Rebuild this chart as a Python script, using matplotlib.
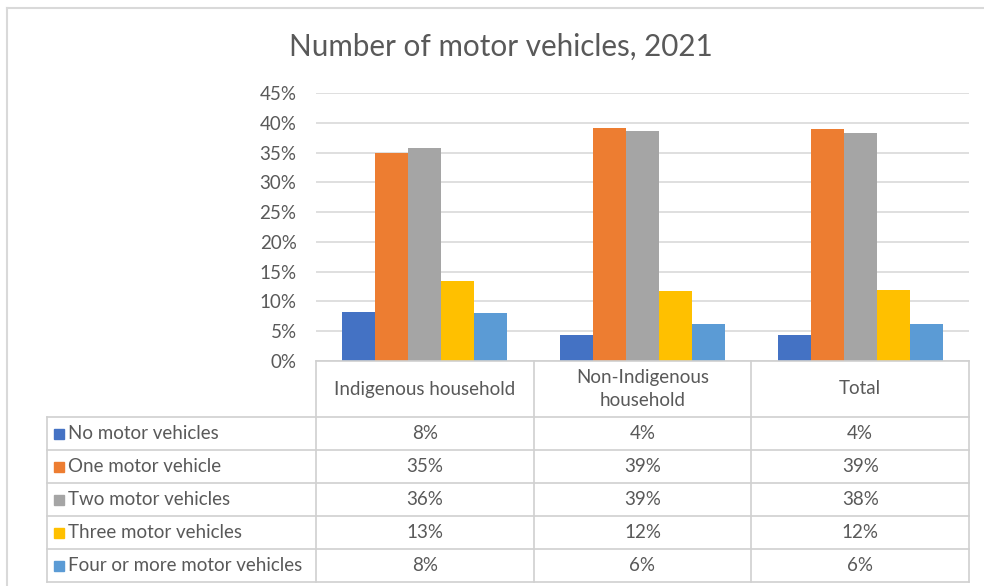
import matplotlib
matplotlib.use("Agg")
import matplotlib.pyplot as plt
from matplotlib.lines import Line2D
import numpy as np

plt.rcParams['font.family'] = ['Lato', 'DejaVu Sans']

# ---- data ----
categories = ["Indigenous household", "Non-Indigenous\nhousehold", "Total"]
series_names = ["No motor vehicles", "One motor vehicle", "Two motor vehicles",
                "Three motor vehicles", "Four or more motor vehicles"]
no_vehicles = [0.083, 0.043, 0.044]
one_vehicle = [0.349, 0.392, 0.389]
two_vehicles = [0.358, 0.386, 0.383]
three_vehicles = [0.134, 0.118, 0.120]
four_plus = [0.080, 0.062, 0.062]
series_values = [no_vehicles, one_vehicle, two_vehicles, three_vehicles, four_plus]
series_colors = ["#4472C4", "#ED7D31", "#A5A5A5", "#FFC000", "#5B9BD5"]
y_ticks = [0, 0.05, 0.10, 0.15, 0.20, 0.25, 0.30, 0.35, 0.40, 0.45]
title = "Number of motor vehicles, 2021"

TEXT = "#595959"
GRID = "#d9d9d9"
LINE = "#d0d0d0"
FS = 13.5

W, H = 984, 586
fig = plt.figure(figsize=(W / 100, H / 100), dpi=100)
fig.patch.set_facecolor("white")


def px_rect(x0, y0, x1, y1):
    """Convert pixel box (top-left origin) to figure fraction rect."""
    return [x0 / W, 1 - y1 / H, (x1 - x0) / W, (y1 - y0) / H]


# layout in pixels
plot_l, plot_r = 316, 969
plot_t, plot_b = 93, 361
tab_l, tab_b = 47, 582
header_h, row_h = 56, 33

# ---- bar chart ----
ax = fig.add_axes(px_rect(plot_l, plot_t, plot_r, plot_b))
n_cat = len(categories)
n_ser = len(series_names)
x = np.arange(n_cat)
bar_w = 1 / (n_ser + 1.6)
for i, (vals, col) in enumerate(zip(series_values, series_colors)):
    ax.bar(x + (i - (n_ser - 1) / 2) * bar_w, vals, width=bar_w, color=col,
           zorder=3, linewidth=0)
ax.set_xlim(-0.5, n_cat - 0.5)
ax.set_ylim(0, 0.45)
ax.set_yticks(y_ticks)
ax.set_yticklabels([f"{t:.0%}" for t in y_ticks])
ax.set_xticks([])
ax.tick_params(axis="y", length=0, pad=14, labelsize=FS, labelcolor=TEXT)
ax.grid(axis="y", color=GRID, linewidth=1.2, zorder=0)
for s in ax.spines.values():
    s.set_visible(False)

# ---- data table ----
cat_px = (plot_r - plot_l) / n_cat
left_units = (plot_l - tab_l) / cat_px
tax = fig.add_axes(px_rect(tab_l, plot_b, plot_r, tab_b))
n_rows = header_h / row_h + n_ser
tax.set_xlim(-0.5 - left_units, n_cat - 0.5)
tax.set_ylim(n_rows, 0)
tax.axis("off")
hdr = header_h / row_h

lw = 1.2
# horizontal lines
tax.plot([-0.5, n_cat - 0.5], [0, 0], color=LINE, lw=lw, clip_on=False)
for r in range(n_ser + 1):
    y = hdr + r
    tax.plot([-0.5 - left_units, n_cat - 0.5], [y, y], color=LINE, lw=lw,
             clip_on=False)
# vertical lines
for c in range(n_cat + 1):
    xc = -0.5 + c
    tax.plot([xc, xc], [0, n_rows], color=LINE, lw=lw, clip_on=False)
tax.plot([-0.5 - left_units] * 2, [hdr, n_rows], color=LINE, lw=lw,
         clip_on=False)

# header
for c, name in enumerate(categories):
    tax.text(c, hdr / 2, name, ha="center", va="center", color=TEXT,
             fontsize=FS, linespacing=1.4)

# rows
key_x = -0.5 - left_units + 12.5 / cat_px
for r, (name, vals, col) in enumerate(zip(series_names, series_values,
                                          series_colors)):
    yc = hdr + r + 0.5
    tax.plot([key_x], [yc], marker="s", markersize=6.5, color=col,
             linestyle="none", clip_on=False)
    tax.text(key_x + 9 / cat_px, yc, name, ha="left", va="center",
             color=TEXT, fontsize=FS)
    for c, v in enumerate(vals):
        tax.text(c, yc, f"{v:.0%}", ha="center", va="center", color=TEXT,
                 fontsize=FS)

# title
fig.text(501 / W, 1 - 47 / H, title, ha="center", va="center", color=TEXT,
         fontsize=21.3)

# outer chart border
fig.add_artist(Line2D([7 / W, 1.0], [1 - 8 / H] * 2, color=GRID, lw=1.5))
fig.add_artist(Line2D([7 / W] * 2, [0, 1 - 8 / H], color=GRID, lw=1.5))

fig.savefig("out.png", dpi=100, facecolor="white")
